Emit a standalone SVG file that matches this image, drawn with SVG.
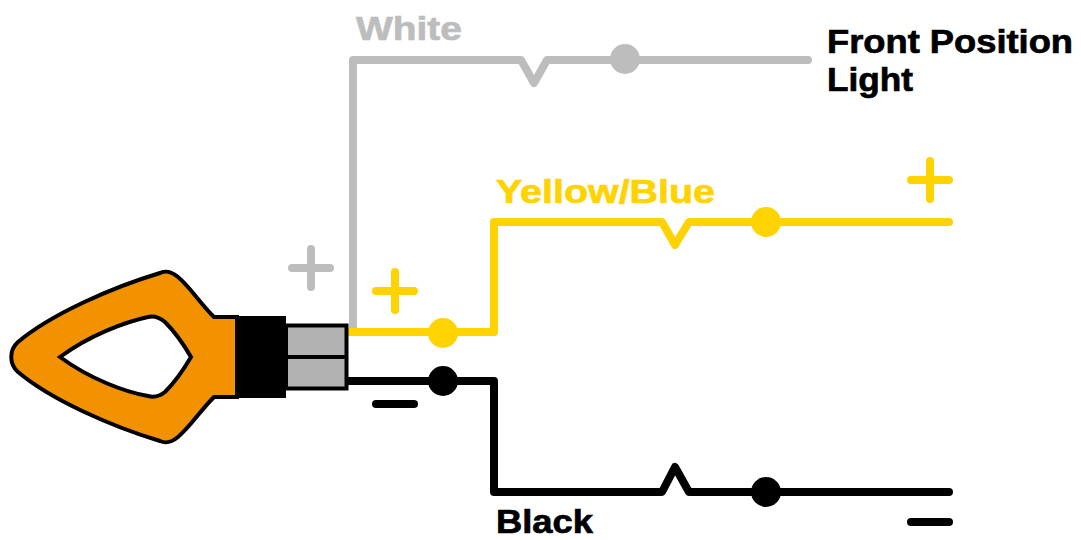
<svg xmlns="http://www.w3.org/2000/svg" width="1081" height="540" viewBox="0 0 1081 540">
<style>
text{font-family:"Liberation Sans",Arial,sans-serif;font-weight:700;font-size:33.500px;stroke-width:.7}
.w{fill:none;stroke-width:8;stroke-linecap:round;stroke-linejoin:round}
.g{stroke:#bdbdbd}.gf{fill:#bdbdbd}
.y{stroke:#ffd300}.yf{fill:#ffd300}
.k{stroke:#000}.kf{fill:#000}
</style>
<g id="connectors">
<path class="w g" d="M353 332V60H521L534 83L547 60H808"/>
<path class="w y" d="M348 332H494V222H662L675 245L689 222H949"/>
<path class="w k" d="M348 381H494V492H662L675 467L689 492H949"/>
</g>
<g id="white-splice"><circle class="gf" cx="625" cy="59" r="15"/></g>
<g id="yellow-splice-1"><circle class="yf" cx="443" cy="333" r="15"/></g>
<g id="yellow-splice-2"><circle class="yf" cx="766" cy="222" r="15"/></g>
<g id="black-splice-1"><circle class="kf" cx="443" cy="381" r="15"/></g>
<g id="black-splice-2"><circle class="kf" cx="766" cy="492" r="15"/></g>
<g id="signs">
<path class="w g" d="M292 268H330M311 249V287"/>
<path class="w y" d="M376 291H414M395 272V310"/>
<path class="w k" d="M376 404H414"/>
<path class="w y" d="M911 180H949M930 161V199"/>
<path class="w k" d="M911 522H949"/>
</g>
<g id="indicator">
<path fill="#f39200" stroke="#000" stroke-width="4" fill-rule="evenodd" d="M237 317H214C200 303 190 287 178 277C172 272 167 270 160 273C110 288 50 315 18 342C9 350 9 364 18 372C50 399 110 426 160 441C167 444 172 442 178 437C190 427 200 411 214 397H237ZM60 357C90 335 125 322 148 317C155 315 160 318 165 322C175 332 184 345 191 357C184 369 175 382 165 392C160 396 155 398 148 396C125 392 90 379 60 357Z"/>
<rect x="237" y="316" width="49" height="82" fill="#000"/>
<rect x="286" y="325.500" width="60.500" height="63" fill="#b2b2b2" stroke="#000" stroke-width="4"/>
<path d="M286 357H346" stroke="#000" stroke-width="4"/>
</g>
<g id="labels">
<text x="356" y="40" fill="#bdbdbd" stroke="#bdbdbd" textLength="106" lengthAdjust="spacingAndGlyphs">White</text>
<text x="827" y="53" fill="#000" stroke="#000" textLength="246" lengthAdjust="spacingAndGlyphs">Front Position</text>
<text x="827" y="91" fill="#000" stroke="#000" textLength="86" lengthAdjust="spacingAndGlyphs">Light</text>
<text x="496" y="203" fill="#ffd300" stroke="#ffd300" textLength="219" lengthAdjust="spacingAndGlyphs">Yellow/Blue</text>
<text x="496" y="533" fill="#000" stroke="#000" textLength="97" lengthAdjust="spacingAndGlyphs">Black</text>
</g>
</svg>
